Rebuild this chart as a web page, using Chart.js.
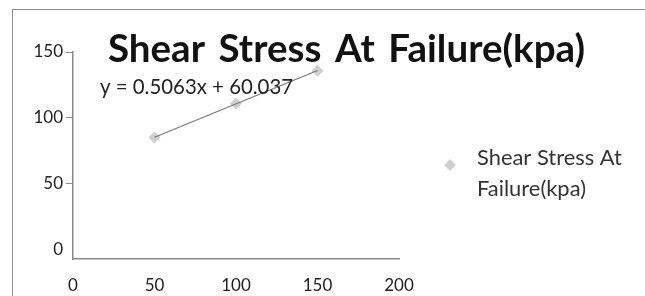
<!DOCTYPE html>
<html>
<head>
<meta charset="utf-8">
<script src="https://cdn.jsdelivr.net/npm/chart.js@4/dist/chart.umd.min.js"></script>
<style>
    html, body { margin: 0; padding: 0; background: #ffffff; }
    #wrap { position: relative; width: 645px; height: 296px; }
</style>
</head>
<body>
<div id="wrap"><canvas id="shearChart"></canvas></div>
<script>
// ==========================================
// Shear stress at failure - scatter + trendline
// ==========================================

const seriesName = "Shear Stress At Failure(kpa)";
const normalStress = [50, 100, 150];
const shearStress = [85.2, 111.0, 135.8];
const xTicks = [0, 50, 100, 150, 200];
const yTicks = [0, 50, 100, 150];
const trendSlope = 0.5063;
const trendIntercept = 60.037;

const FONT = "Lato, 'Liberation Sans', sans-serif";

const points = normalStress.map((x, i) => ({ x: x, y: shearStress[i] }));
const trendX = [normalStress[0], normalStress[normalStress.length - 1]];
const trendPoints = trendX.map(x => ({ x: x, y: trendSlope * x + trendIntercept }));

function fitFont(ctx, text, weight, width) {
    ctx.font = weight + " 100px " + FONT;
    const size = 100 * width / ctx.measureText(text).width;
    return weight + " " + size.toFixed(1) + "px " + FONT;
}

const decorations = {
    id: "decorations",
    afterDraw(chart) {
        const ctx = chart.ctx;
        ctx.save();

        // outer frame
        ctx.strokeStyle = "#8f8f8f";
        ctx.lineWidth = 1;
        ctx.strokeRect(12.5, 9.5, chart.width, chart.height);

        // title, stretched by word spacing
        ctx.fillStyle = "#111111";
        ctx.textBaseline = "middle";
        ctx.textAlign = "left";
        ctx.font = "bold 38.5px " + FONT;
        const gaps = seriesName.split(" ").length - 1;
        const extra = (477 - ctx.measureText(seriesName).width) / gaps;
        ctx.wordSpacing = Math.max(0, extra).toFixed(1) + "px";
        ctx.fillText(seriesName, 108, 50);
        ctx.wordSpacing = "0px";

        // trendline equation
        const eq = "y = " + trendSlope + "x + " + trendIntercept;
        ctx.fillStyle = "#222222";
        ctx.font = fitFont(ctx, eq, "normal", 193);
        ctx.fillText(eq, 100, 87);

        // legend
        const words = seriesName.split(" ");
        const line1 = words.slice(0, 3).join(" ");
        const line2 = words.slice(3).join(" ");
        ctx.fillStyle = "#333333";
        ctx.font = fitFont(ctx, line1, "normal", 145);
        ctx.fillText(line1, 477, 158);
        ctx.fillText(line2, 477, 189);

        ctx.fillStyle = "#d0d0d0";
        ctx.beginPath();
        ctx.moveTo(450, 159);
        ctx.lineTo(456, 165);
        ctx.lineTo(450, 171);
        ctx.lineTo(444, 165);
        ctx.closePath();
        ctx.fill();

        ctx.restore();
    }
};

const shearChart = new Chart(
    document.getElementById("shearChart"),
    {
        type: "scatter",

        data: {
            datasets: [
                {
                    label: seriesName,
                    data: points,
                    pointStyle: "rectRot",
                    pointRadius: 6,
                    pointBackgroundColor: "#d0d0d0",
                    pointBorderColor: "#d0d0d0",
                    pointBorderWidth: 0,
                    showLine: false,
                    order: 2
                },
                {
                    label: "Linear",
                    type: "line",
                    data: trendPoints,
                    borderColor: "#7a7a7a",
                    borderWidth: 1.3,
                    pointRadius: 0,
                    order: 1
                }
            ]
        },

        options: {
            responsive: true,
            maintainAspectRatio: false,
            animation: false,
            devicePixelRatio: 1,

            layout: {
                padding: { left: 0, top: 52, right: 246, bottom: 0 }
            },

            plugins: {
                legend: { display: false },
                title: { display: false },
                tooltip: { enabled: false }
            },

            scales: {
                x: {
                    type: "linear",
                    min: 0,
                    max: 200,
                    afterBuildTicks: s => { s.ticks = xTicks.map(v => ({ value: v })); },
                    afterFit: s => { s.height = 37; },
                    border: { color: "#8a8a8a", width: 1.5 },
                    grid: { display: false, drawTicks: false },
                    ticks: {
                        color: "#222222",
                        padding: 16,
                        maxRotation: 0,
                        font: { family: FONT, size: 17 }
                    }
                },
                y: {
                    type: "linear",
                    min: -7,
                    max: 150,
                    afterBuildTicks: s => { s.ticks = yTicks.map(v => ({ value: v })); },
                    afterFit: s => { s.width = 73; },
                    border: { color: "#8a8a8a", width: 1.5 },
                    grid: {
                        drawOnChartArea: false,
                        drawTicks: true,
                        tickLength: 7,
                        color: c => (c.tick && c.tick.value === 0) ? "rgba(0,0,0,0)" : "#8a8a8a"
                    },
                    ticks: {
                        color: "#222222",
                        padding: 3,
                        font: { family: FONT, size: 17 }
                    }
                }
            }
        },

        plugins: [decorations]
    }
);
</script>
</body>
</html>
